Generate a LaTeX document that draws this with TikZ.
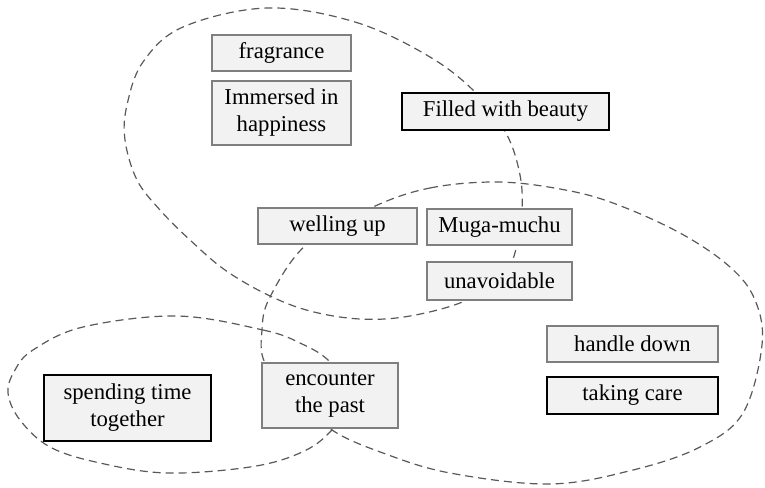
\documentclass[tikz,border=0pt]{standalone}
\usepackage{fontspec}
\setmainfont{Liberation Serif}
\definecolor{boxfill}{HTML}{F2F2F2}
\definecolor{boxline}{HTML}{7F7F7F}
\definecolor{dashgray}{HTML}{595959}
\begin{document}
\begin{tikzpicture}[x=0.5pt,y=-0.5pt,
  lbl/.style={draw=boxline, line width=0.6pt, fill=boxfill, inner sep=0pt, align=center,
    font=\fontsize{11.35}{13.5}\selectfont},
  thickbox/.style={lbl, draw=black, line width=1.1pt},
  blob/.style={draw=dashgray, dash pattern=on 4pt off 2.5pt, line width=0.6pt}]
\useasboundingbox (0,0) rectangle (765,487);

% top region
\draw[blob] plot[smooth cycle, tension=0.6] coordinates {
 (267,8) (355,22) (430,57) (478,95) (507,135) (520,175) (522,210) (517,245)
 (505,272) (467,300) (410,316) (360,319) (310,311) (268,295) (225,270)
 (190,240) (160,210) (137,180) (125,140) (127,105) (143,62) (183,27)};

% right region
\draw[blob] plot[smooth cycle, tension=0.6] coordinates {
 (373,207) (430,188) (497,182) (560,189) (613,203) (680,233) (730,267)
 (755,300) (762,345) (743,413) (700,447) (633,470) (550,484) (450,473)
 (383,453) (332,430) (295,395) (265,363) (262,330) (270,297) (307,244)};

% lower-left region
\draw[blob] plot[smooth cycle, tension=0.6] coordinates {
 (177,316) (263,330) (300,343) (330,362) (352,398) (330,432) (300,453)
 (250,467) (167,473) (100,463) (50,447) (20,420) (8,393) (15,370) (33,350) (83,327)};

\node[lbl, minimum width=69.5pt, minimum height=18pt] (frag) at (281.5,53) {fragrance};
\node[lbl, minimum width=69.5pt, minimum height=32pt] (imm) at (281.5,113) {Immersed in\\happiness};
\node[thickbox, minimum width=103.5pt, minimum height=18.5pt] (fill) at (505.5,111.5) {Filled with beauty};
\node[lbl, minimum width=79.5pt, minimum height=18pt] (well) at (337.5,226) {welling up};
\node[lbl, minimum width=72.5pt, minimum height=18pt] (muga) at (499.5,227) {Muga-muchu};
\node[lbl, minimum width=72.5pt, minimum height=19pt] (unav) at (499.5,281) {unavoidable};
\node[lbl, minimum width=85.5pt, minimum height=18pt] (hand) at (632.5,344) {handle down};
\node[thickbox, minimum width=85.5pt, minimum height=18.5pt] (take) at (632.5,395.5) {taking care};
\node[thickbox, minimum width=83.5pt, minimum height=33pt] (spend) at (127.5,408) {spending time\\together};
\node[lbl, minimum width=68pt, minimum height=32.5pt] (enc) at (330,395.5) {encounter\\the past};
\end{tikzpicture}
\end{document}
